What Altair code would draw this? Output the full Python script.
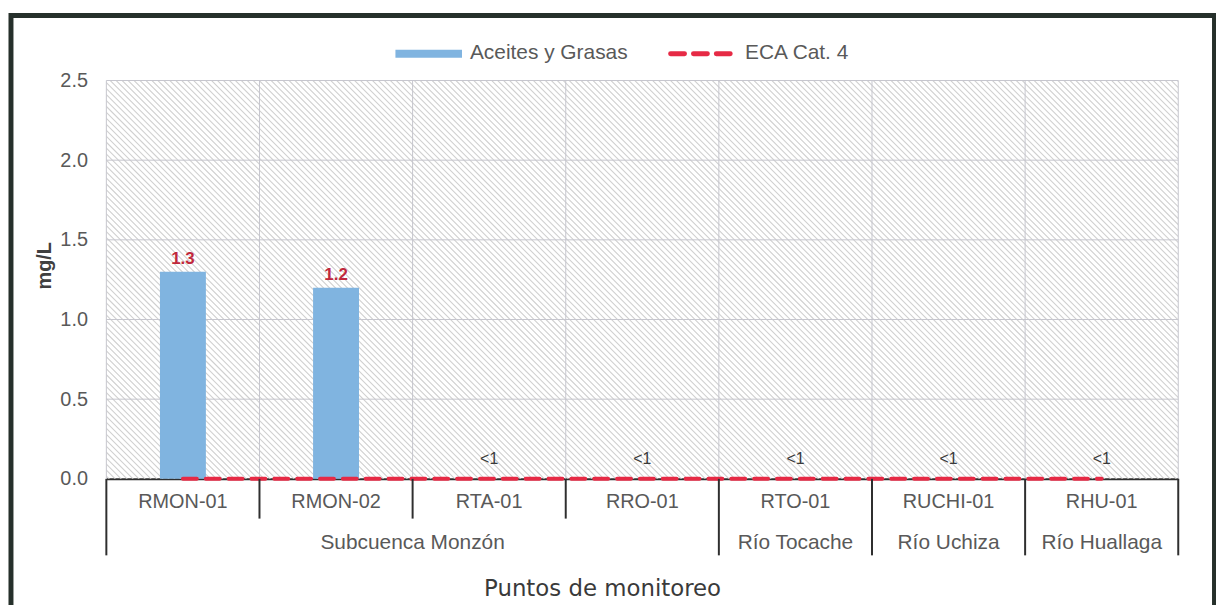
import math
import altair as alt
import pandas as pd

# ---------------- data ----------------
stations = ["RMON-01", "RMON-02", "RTA-01", "RRO-01", "RTO-01", "RUCHI-01", "RHU-01"]
aceites = [1.3, 1.2, 0.0, 0.0, 0.0, 0.0, 0.0]
value_labels = ["1.3", "1.2", "<1", "<1", "<1", "<1", "<1"]
eca_cat4 = [0.0, 0.0, 0.0, 0.0, 0.0, 0.0, 0.0]
group_names = ["Subcuenca Monzón", "Río Tocache", "Río Uchiza", "Río Huallaga"]
group_anchor = ["RTA-01", "RTO-01", "RUCHI-01", "RHU-01"]
group_band_pos = [0.0, 0.5, 0.5, 0.5]
y_ticks = [0.0, 0.5, 1.0, 1.5, 2.0, 2.5]
short_dividers = ["RMON-02", "RTA-01", "RRO-01"]
long_dividers = ["RMON-01", "RTO-01", "RUCHI-01", "RHU-01"]
legend_labels = ["Aceites y Grasas", "ECA Cat. 4"]
y_title = "mg/L"
x_title = "Puntos de monitoreo"

df = pd.DataFrame({
    "station": stations,
    "aceites": aceites,
    "label": value_labels,
    "eca": eca_cat4,
})

# ---------------- styling ----------------
W, H = 1079, 401
BAR = "#80b4e0"
RED = "#e62a45"
GRID = "#c6c6ce"
DARK = "#2f2f2f"
TXT = "#595959"
FONT = "Liberation Sans"

xscale = alt.Scale(domain=stations, paddingInner=0, paddingOuter=0)
xaxis = alt.Axis(
    title=x_title, labelFont=FONT, labelFontSize=20, labelColor=TXT, labelPadding=13,
    ticks=False, grid=False, domainColor=DARK, domainWidth=2, labelAngle=0,
    titleFont="DejaVu Sans", titleFontSize=23, titleFontWeight="normal", titleColor="#3a3a3a",
    titleX=499, titleY=110, titleAlign="center", titleBaseline="middle",
)
yscale = alt.Scale(domain=[0, 2.5], nice=False, zero=True)
yaxis = alt.Axis(
    title=y_title, values=y_ticks, format=".1f", labelFont=FONT, labelFontSize=20,
    labelColor=TXT, labelPadding=19, ticks=False, domain=False, grid=False,
    titleFont=FONT, titleFontSize=20, titleFontWeight="bold", titleColor="#404040",
    titleX=-62, titleY=186, titleAngle=270, titleAlign="center", titleBaseline="middle",
)


def X(bp=None):
    if bp is None:
        return alt.X("station:N", sort=stations, scale=xscale, axis=xaxis)
    return alt.X("station:N", sort=stations, scale=xscale, axis=xaxis, bandPosition=bp)


def Y(field):
    return alt.Y(f"{field}:Q", scale=yscale, axis=yaxis)


base = alt.Chart(df)
one = alt.Chart(pd.DataFrame({"k": [0]}))

# diagonal hatch of the plot area: one very wide dashed stroke running at 45 degrees,
# its dashes form the "\" stripes; clipped to the plot area
cx, cy, half = W / 2, H / 2, 560
d = half / math.sqrt(2)
hatch = one.mark_rule(
    stroke="#d0d0d0", strokeWidth=1150, strokeDash=[1.1, 3.143], strokeCap="butt", clip=True
).encode(
    x=alt.value(cx - d), y=alt.value(cy + d), x2=alt.value(cx + d), y2=alt.value(cy - d)
)

hgrid = alt.Chart(pd.DataFrame({"v": y_ticks[1:]})).mark_rule(
    color=GRID, strokeWidth=1
).encode(y=Y("v"))

vgrid = base.mark_rule(color=GRID, strokeWidth=1).encode(x=X(0))
vgrid_end = base.transform_filter(alt.datum.station == stations[-1]).mark_rule(
    color=GRID, strokeWidth=1
).encode(x=X(1))

bars = base.mark_bar(color=BAR, width=alt.RelativeBandSize(0.3)).encode(x=X(), y=Y("aceites"))

eca_line = base.mark_line(
    color=RED, strokeWidth=4, strokeDash=[14, 9], strokeCap="round"
).encode(x=X(), y=Y("eca"))

num_labels = base.transform_filter(alt.datum.aceites > 0).mark_text(
    font=FONT, fontSize=17, fontWeight="bold", color="#c0283c", baseline="middle", dy=-13
).encode(x=X(), y=Y("aceites"), text="label:N")

lt_labels = base.transform_filter(alt.datum.aceites <= 0).mark_text(
    font=FONT, fontSize=16, color="#3a3a3a", baseline="middle", dy=-20
).encode(x=X(), y=Y("aceites"), text="label:N")

short_div = base.transform_filter(
    alt.FieldOneOfPredicate(field="station", oneOf=short_dividers)
).mark_rule(color=DARK, strokeWidth=2).encode(x=X(0), y=alt.value(H), y2=alt.value(H + 40))

long_div = base.transform_filter(
    alt.FieldOneOfPredicate(field="station", oneOf=long_dividers)
).mark_rule(color=DARK, strokeWidth=2).encode(x=X(0), y=alt.value(H), y2=alt.value(H + 77))

long_div_end = base.transform_filter(alt.datum.station == stations[-1]).mark_rule(
    color=DARK, strokeWidth=2
).encode(x=X(1), y=alt.value(H), y2=alt.value(H + 77))

gdf = pd.DataFrame({"station": group_anchor, "group": group_names, "bp": group_band_pos})
group_start = alt.Chart(gdf).transform_filter(alt.datum.bp == 0).mark_text(
    font=FONT, fontSize=21, color=TXT, baseline="middle"
).encode(x=X(0), y=alt.value(H + 65), text="group:N")
group_center = alt.Chart(gdf).transform_filter(alt.datum.bp > 0).mark_text(
    font=FONT, fontSize=21, color=TXT, baseline="middle"
).encode(x=X(), y=alt.value(H + 65), text="group:N")

# legend
leg_bar = one.mark_rect(color=BAR).encode(
    x=alt.value(291), x2=alt.value(358), y=alt.value(-31), y2=alt.value(-23)
)
leg_bar_txt = alt.Chart(pd.DataFrame({"t": [legend_labels[0]]})).mark_text(
    font=FONT, fontSize=21, color=TXT, align="left", baseline="alphabetic"
).encode(x=alt.value(366), y=alt.value(-22), text="t:N")
leg_line = one.mark_rule(
    color=RED, strokeWidth=5, strokeDash=[14, 9], strokeCap="round"
).encode(x=alt.value(568), x2=alt.value(631), y=alt.value(-27))
leg_line_txt = alt.Chart(pd.DataFrame({"t": [legend_labels[1]]})).mark_text(
    font=FONT, fontSize=21, color=TXT, align="left", baseline="alphabetic"
).encode(x=alt.value(643), y=alt.value(-22), text="t:N")

frame = one.mark_rect(fill=None, stroke="#26302b", strokeWidth=5).encode(
    x=alt.value(-96), x2=alt.value(1115.5), y=alt.value(-65.5), y2=alt.value(560)
)

chart = alt.layer(
    hatch, hgrid, vgrid, vgrid_end, bars, eca_line, num_labels, lt_labels,
    short_div, long_div, long_div_end, group_start, group_center,
    leg_bar, leg_bar_txt, leg_line, leg_line_txt, frame,
).properties(
    width=W, height=H,
    padding={"left": 99, "top": 71, "right": 38, "bottom": 125},
    autosize=alt.AutoSizeParams(type="none"),
    background="white",
).configure_view(stroke=None)

chart.save("out.html", embed_options={"renderer": "svg", "actions": False})
